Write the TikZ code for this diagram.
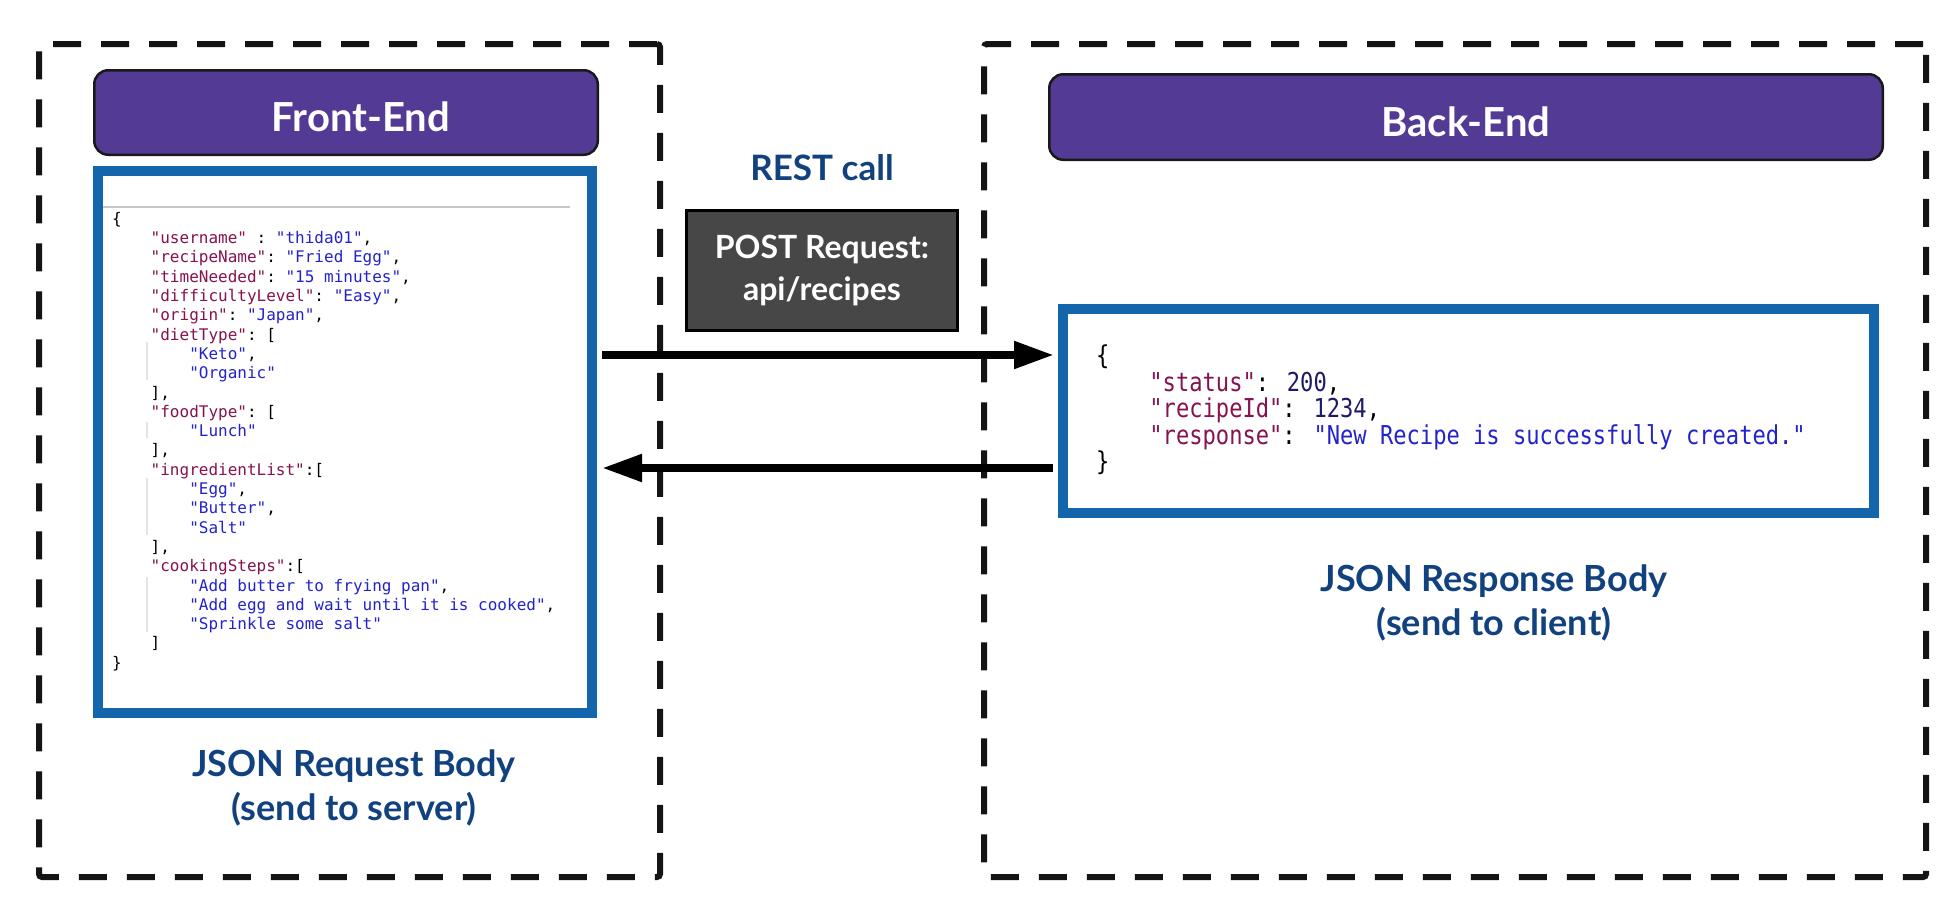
\documentclass[tikz,border=0pt]{standalone}
\usepackage{fontspec}
\setmainfont{Lato}
\setmonofont{DejaVu Sans Mono}
\newfontfamily\respmono[FakeStretch=0.85]{DejaVu Sans Mono}
\usetikzlibrary{arrows.meta,positioning}

\definecolor{headpurple}{HTML}{533A95}
\definecolor{boxblue}{HTML}{1466AC}
\definecolor{labelblue}{HTML}{11417F}
\definecolor{postgray}{HTML}{474747}
\definecolor{jsonkey}{HTML}{86124F}
\definecolor{jsonstr}{HTML}{2323CC}
\definecolor{jsonnum}{HTML}{1E1B66}
\definecolor{guidegray}{HTML}{E4E4E4}

\newcommand{\jk}[1]{\textcolor{jsonkey}{"#1"}}
\newcommand{\js}[1]{\textcolor{jsonstr}{"#1"}}
\newcommand{\jn}[1]{\textcolor{jsonnum}{#1}}
\newcommand{\tb}{\phantom{xxxx}}

\begin{document}
\begin{tikzpicture}[x=1pt, y=-1pt,
    dashbox/.style={draw=black!92, line width=6pt, dash pattern=on 28pt off 20pt, rounded corners=3pt, inner sep=0},
    header/.style={draw=black!90, line width=2.5pt, fill=headpurple, rounded corners=14pt, text=white, font=\fontsize{40}{44}\selectfont\bfseries, text height=38pt, text depth=0pt, inner sep=0},
    jsonbox/.style={draw=boxblue, line width=10pt, fill=white, inner sep=0},
    caption/.style={text=labelblue, font=\fontsize{36}{44}\selectfont\bfseries, align=center},
    arrow/.style={line width=8pt, -{Triangle[length=40pt, width=26pt]}}]
    \useasboundingbox[fill=white] (0,0) rectangle (1958,908);

    \node[dashbox, minimum width=621, minimum height=833] (front) at (349.5, 460.5) {};
    \node[dashbox, minimum width=942, minimum height=833] (back) at (1455, 460.5) {};

    \node[header, minimum width=503.5, minimum height=84.5] (fhead) at (346, 112.5) {\hspace*{30pt}Front-End};
    \node[header, minimum width=833.5, minimum height=85.5] (bhead) at (1466, 117) {Back-End};

    \node[jsonbox, minimum width=494, minimum height=542] (req) at (345, 442) {};
    \node[jsonbox, minimum width=811, minimum height=204] (resp) at (1468.5, 411) {};

    % editor rule and indent guides
    \draw[black!22, line width=1.5pt] (103, 207) -- (570, 207);
    \draw[guidegray, line width=1.5pt] (147, 342) -- (147, 380);
    \draw[guidegray, line width=1.5pt] (147, 422) -- (147, 438);
    \draw[guidegray, line width=1.5pt] (147, 478) -- (147, 535);
    \draw[guidegray, line width=1.5pt] (147, 577) -- (147, 632);

    \node[anchor=north west, inner sep=0, align=left, font=\ttfamily\fontsize{16}{19.3}\selectfont] (reqjson) at (112, 212) {\{\\
        \tb\jk{username} : \js{thida01},\\
        \tb\jk{recipeName}: \js{Fried Egg},\\
        \tb\jk{timeNeeded}: \js{15 minutes},\\
        \tb\jk{difficultyLevel}: \js{Easy},\\
        \tb\jk{origin}: \js{Japan},\\
        \tb\jk{dietType}: [\\
        \tb\tb\js{Keto},\\
        \tb\tb\js{Organic}\\
        \tb],\\
        \tb\jk{foodType}: [\\
        \tb\tb\js{Lunch}\\
        \tb],\\
        \tb\jk{ingredientList}:[\\
        \tb\tb\js{Egg},\\
        \tb\tb\js{Butter},\\
        \tb\tb\js{Salt}\\
        \tb],\\
        \tb\jk{cookingSteps}:[\\
        \tb\tb\js{Add butter to frying pan},\\
        \tb\tb\js{Add egg and wait until it is cooked},\\
        \tb\tb\js{Sprinkle some salt}\\
        \tb]\\
        \}};

    \node[anchor=north west, inner sep=0, align=left, font=\respmono\fontsize{26}{26.5}\selectfont] (respjson) at (1096, 345) {\{\\
        \tb\jk{status}: \jn{200},\\
        \tb\jk{recipeId}: \jn{1234},\\
        \tb\jk{response}: \js{New Recipe is successfully created.}\\
        \}};

    \node[text=labelblue, font=\fontsize{35}{40}\selectfont\bfseries] (rest) at (822, 168) {REST call};
    \node[draw=black, line width=3pt, fill=postgray, text=white, align=center, font=\fontsize{32}{42}\selectfont\bfseries, minimum width=271, minimum height=120, inner sep=0] (post) at (822, 270.5) {POST Request:\\api/recipes};

    \node[caption] (reqlabel) at (354, 788) {JSON Request Body\\(send to server)};
    \node[caption] (resplabel) at (1494, 603) {JSON Response Body\\(send to client)};

    \draw[arrow, shorten <=5pt, shorten >=4pt] ([yshift=87pt]req.east) -- ([yshift=56pt]resp.west);
    \draw[arrow, shorten <=5pt, shorten >=5pt] ([yshift=-57pt]resp.west) -- ([yshift=-26pt]req.east);
\end{tikzpicture}
\end{document}
